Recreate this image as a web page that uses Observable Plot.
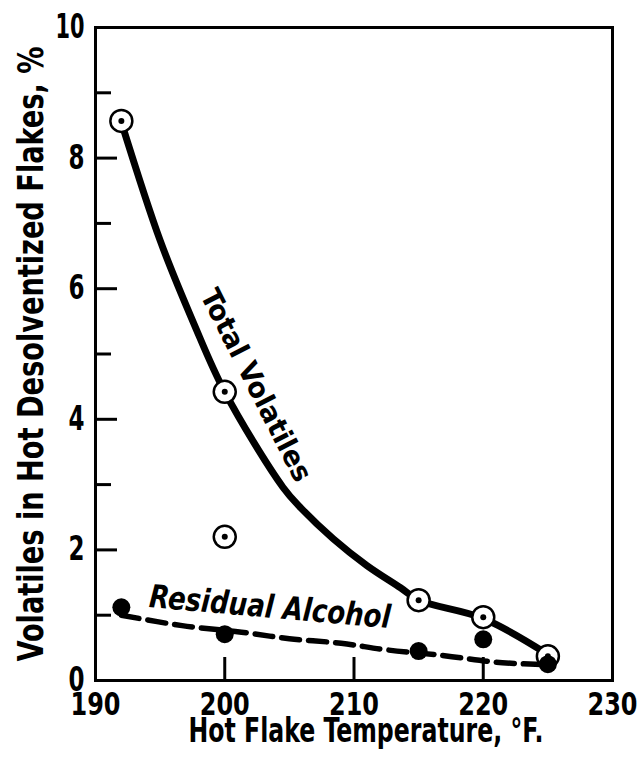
<!DOCTYPE html>
<html>
<head>
<meta charset="utf-8">
<script src="https://cdn.jsdelivr.net/npm/d3@7"></script>
<script src="https://cdn.jsdelivr.net/npm/@observablehq/plot@0.6"></script>
<style>
  html, body { margin: 0; padding: 0; background: #fff; }
  svg { display: block; }
</style>
</head>
<body>
<div id="chart"></div>
<script>
// Measured points
const totalX = [192, 200, 200, 215, 220, 225];
const totalY = [8.57, 4.42, 2.2, 1.23, 0.97, 0.37];
const alcoholX = [192, 200, 215, 220, 225];
const alcoholY = [1.12, 0.71, 0.45, 0.63, 0.25];

// Fitted curves as drawn in the figure
const totalCurveX = [192, 195, 197.6, 200, 204.5, 205.9, 208.4, 211, 213.6, 215, 220, 225];
const totalCurveY = [8.55, 6.74, 5.47, 4.42, 2.96, 2.64, 2.17, 1.76, 1.42, 1.23, 0.95, 0.4];
const alcoholCurveX = [192, 196.7, 201.3, 205, 209, 212.5, 217, 221, 225];
const alcoholCurveY = [1.0, 0.84, 0.74, 0.64, 0.57, 0.47, 0.38, 0.28, 0.24];

// Axis ticks
const xTickValues = [190, 200, 210, 220, 230];
const yMajorTicks = [0, 2, 4, 6, 8, 10];
const yMinorTicks = [1, 3, 5, 7, 9];

// Labels
const xTitle = "Hot Flake Temperature, °F.";
const yTitle = "Volatiles in Hot Desolventized Flakes, %";
const totalLabel = [{x: 202.4, y: 4.52, text: "Total Volatiles"}];
const alcoholLabel = [{x: 203.5, y: 1.12, text: "Residual Alcohol"}];

const total = totalX.map((x, i) => ({x, y: totalY[i]}));
const alcohol = alcoholX.map((x, i) => ({x, y: alcoholY[i]}));
const totalCurve = totalCurveX.map((x, i) => ({x, y: totalCurveY[i]}));
const alcoholCurve = alcoholCurveX.map((x, i) => ({x, y: alcoholCurveY[i]}));

const font = "'DejaVu Sans', sans-serif";

const chart = Plot.plot({
  width: 642,
  height: 765,
  marginLeft: 95,
  marginRight: 30,
  marginTop: 27,
  marginBottom: 85,
  style: {fontFamily: font, fontWeight: "bold", fontStretch: "condensed", background: "#fff", color: "#000"},
  x: {domain: [190, 230]},
  y: {domain: [0, 10]},
  marks: [
    Plot.frame({stroke: "#000", strokeWidth: 3}),
    Plot.axisY(yMajorTicks, {tickSize: -22, tickPadding: 33, strokeWidth: 3, fontSize: 33, label: null, tickFormat: d3.format("d")}),
    Plot.axisY(yMinorTicks, {tickSize: -16, text: null, strokeWidth: 3, label: null}),
    Plot.axisX(xTickValues, {tickSize: -23, tickPadding: 35, strokeWidth: 3, fontSize: 32, label: null, tickFormat: d3.format("d")}),
    Plot.text([xTitle], {frameAnchor: "bottom", text: d => d, textAnchor: "middle", lineAnchor: "middle", dy: 51, dx: 12, fontSize: 33}),
    Plot.text([yTitle], {frameAnchor: "left", text: d => d, textAnchor: "middle", lineAnchor: "middle", dx: -64, dy: 0, rotate: -90, fontSize: 36}),
    Plot.line(totalCurve, {x: "x", y: "y", curve: "catmull-rom", stroke: "#000", strokeWidth: 7}),
    Plot.dot(total, {x: "x", y: "y", r: 11, fill: "#fff", stroke: "#000", strokeWidth: 2.5}),
    Plot.dot(total, {x: "x", y: "y", r: 3, fill: "#000"}),
    Plot.line(alcoholCurve, {x: "x", y: "y", curve: "catmull-rom", stroke: "#000", strokeWidth: 5.5, strokeDasharray: "18,9"}),
    Plot.dot(alcohol, {x: "x", y: "y", r: 9, fill: "#000"}),
    Plot.text(totalLabel, {x: "x", y: "y", text: "text", rotate: 63, fontSize: 28}),
    Plot.text(alcoholLabel, {x: "x", y: "y", text: "text", rotate: 5, fontSize: 32, fontStyle: "italic"})
  ]
});

// Condense the type to the narrow face of the original via textLength
const textWidths = {
  [xTitle]: 355,
  [yTitle]: 615,
  "Total Volatiles": 212,
  "Residual Alcohol": 242
};
chart.querySelectorAll("text").forEach(el => {
  const t = el.textContent;
  const parent = el.closest("g");
  const aria = parent ? parent.getAttribute("aria-label") : "";
  let w = null;
  if (textWidths[t] != null) w = textWidths[t];
  else if (aria === "x-axis tick label") w = 50;
  else if (aria === "y-axis tick label") w = t.length === 1 ? 16 : 29;
  if (w != null) {
    el.setAttribute("textLength", w);
    el.setAttribute("lengthAdjust", "spacingAndGlyphs");
  }
});
document.getElementById("chart").appendChild(chart);
</script>
</body>
</html>
